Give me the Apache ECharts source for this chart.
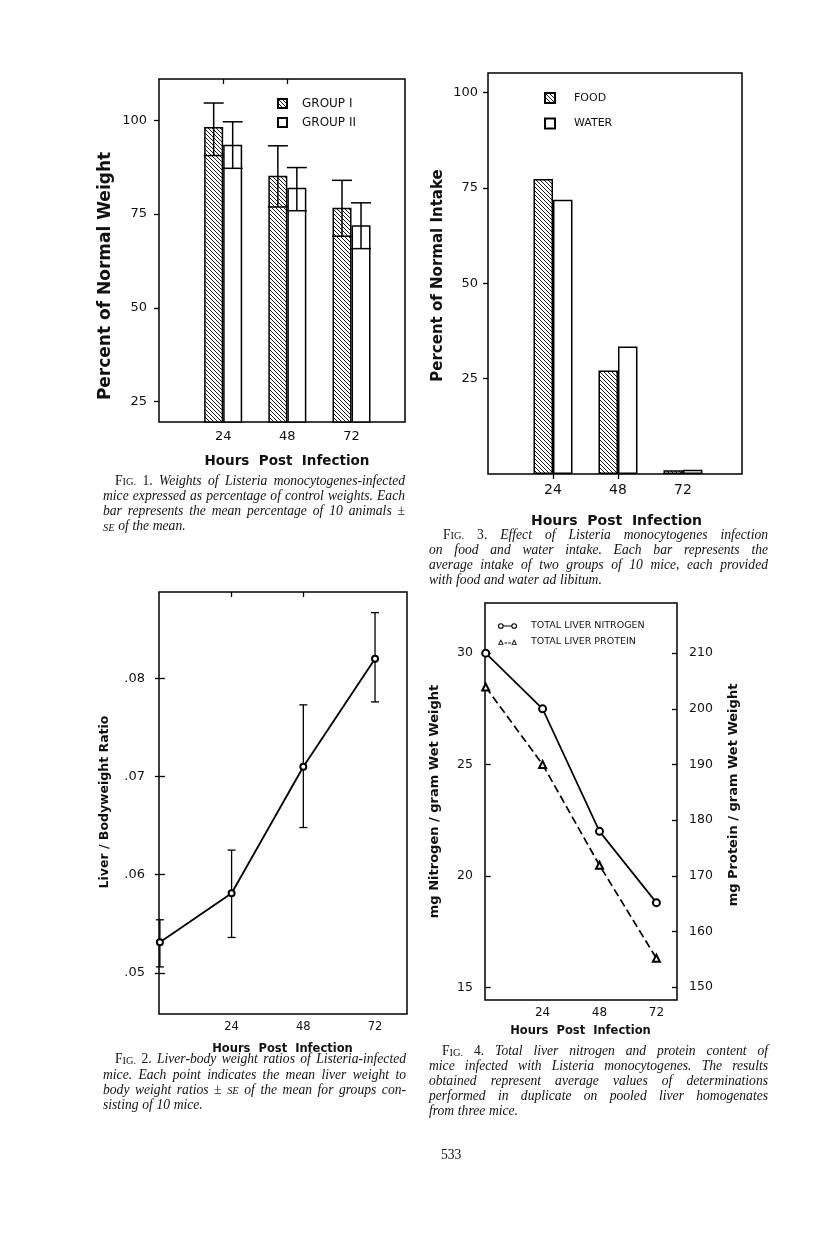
<!DOCTYPE html>
<html><head><meta charset="utf-8">
<script src="https://cdn.jsdelivr.net/npm/echarts@6/dist/echarts.min.js"></script>
<style>html,body{margin:0;padding:0;background:#fff}#c{width:816px;height:1253px}</style>
</head><body><div id="c"></div>
<script>
// ---------------- DATA ----------------
const hours = [24, 48, 72];
// Fig. 1 – percent of normal weight (mean, lower SE, upper SE)
const fig1GroupI = [98.2, 85.2, 76.7];
const fig1GroupILow = [90.6, 76.9, 69.1];
const fig1GroupIHigh = [104.6, 93.2, 84.0];
const fig1GroupII = [93.5, 82.0, 72.0];
const fig1GroupIILow = [87.2, 75.9, 65.8];
const fig1GroupIIHigh = [99.6, 87.4, 78.0];
const fig1YTicks = [25, 50, 75, 100];
// Fig. 3 – percent of normal intake
const fig3Food = [77.3, 27.1, 1.0];
const fig3Water = [71.9, 33.4, 1.1];
const fig3YTicks = [25, 50, 75, 100];
// Fig. 2 – liver / bodyweight ratio
const fig2Hours = [0, 24, 48, 72];
const fig2Ratio = [0.0531, 0.0581, 0.0710, 0.0820];
const fig2Low = [0.0506, 0.0536, 0.0648, 0.0776];
const fig2High = [0.0554, 0.0625, 0.0773, 0.0867];
const fig2YTicks = [0.05, 0.06, 0.07, 0.08];
// Fig. 4 – nitrogen (left axis) and protein (right axis)
const fig4Hours = [0, 24, 48, 72];
const fig4Nitrogen = [30.0, 27.5, 22.0, 18.8];
const fig4Protein = [203.9, 190.0, 171.9, 155.2];
const fig4LeftTicks = [15, 20, 25, 30];
const fig4RightTicks = [150, 160, 170, 180, 190, 200, 210];
const topTicks = [24, 48];

// ---------------- TEXT ----------------
const cap1 = ["FIG. 1. Weights of Listeria monocytogenes-infected",
  "mice expressed as percentage of control weights. Each",
  "bar represents the mean percentage of 10 animals ±",
  "SE of the mean."];
const cap3 = ["FIG. 3. Effect of Listeria monocytogenes infection",
  "on food and water intake. Each bar represents the",
  "average intake of two groups of 10 mice, each provided",
  "with food and water ad libitum."];
const cap2 = ["FIG. 2. Liver-body weight ratios of Listeria-infected",
  "mice. Each point indicates the mean liver weight to",
  "body weight ratios ± SE of the mean for groups con-",
  "sisting of 10 mice."];
const cap4 = ["FIG. 4. Total liver nitrogen and protein content of",
  "mice infected with Listeria monocytogenes. The results",
  "obtained represent average values of determinations",
  "performed in duplicate on pooled liver homogenates",
  "from three mice."];

// ---------------- HELPERS ----------------
const SANS = '"DejaVu Sans", sans-serif';
const SERIF = '"Liberation Serif", "Times New Roman", serif';
const INK = '#111';

function hatch() {
  const n = 4, c = document.createElement('canvas');
  c.width = c.height = n;
  const g = c.getContext('2d');
  g.fillStyle = '#fff'; g.fillRect(0, 0, n, n);
  g.strokeStyle = '#000'; g.lineWidth = 0.9;
  g.beginPath();
  g.moveTo(-1, -1); g.lineTo(n + 1, n + 1);
  g.moveTo(n - 1, -1); g.lineTo(n + 1, 1);
  g.moveTo(-1, n - 1); g.lineTo(1, n + 1);
  g.stroke();
  return c;
}
const HATCH = { image: hatch(), repeat: 'repeat' };

const meas = document.createElement('canvas').getContext('2d');
function segW(s) { meas.font = s.font; return meas.measureText(s.text).width; }
const CS = 13.6, SC = 10.4;
function wordSegs(w, i, words, li) {
  const it = `italic ${CS}px ${SERIF}`, rm = `${CS}px ${SERIF}`;
  if (li === 0 && i === 0 && w === 'FIG.') return [{ text: 'F', font: rm, size: CS }, { text: 'IG.', font: `${SC}px ${SERIF}`, size: SC }];
  if (li === 0 && i === 1) return [{ text: w, font: rm, size: CS }];
  if (w === 'SE') return [{ text: 'SE', font: `italic ${SC}px ${SERIF}`, size: SC }];
  if (w === '±') return [{ text: '±', font: rm, size: CS }];
  return [{ text: w, font: it, size: CS }];
}
function captionEls(lines, cfg) {
  const els = [];
  lines.forEach((line, li) => {
    const words = line.split(' ');
    const segs = words.map((w, i) => wordSegs(w, i, words, li));
    const widths = segs.map(ss => ss.reduce((a, s) => a + segW(s), 0));
    const x0 = cfg.left + (li === 0 ? cfg.indent : 0);
    const total = widths.reduce((a, b) => a + b, 0);
    const last = li === lines.length - 1;
    const gap = last ? CS * 0.27 : (cfg.right - x0 - total) / (words.length - 1);
    let x = x0;
    const base = cfg.base + li * cfg.lh;
    segs.forEach(ss => {
      ss.forEach(s => {
        els.push({ type: 'text', x: x, y: base - 0.3375 * s.size, silent: true,
          style: { text: s.text, font: s.font, fill: INK, align: 'left', verticalAlign: 'middle' } });
        x += segW(s);
      });
      x += gap;
    });
  });
  return els;
}
function nameEl(text, cx, cy, size, rot) {
  return { type: 'text', x: cx, y: cy, rotation: rot ? Math.PI / 2 : 0, silent: true,
    style: { text: text, font: `bold ${size}px ${SANS}`, fill: INK, align: 'center', verticalAlign: 'middle' } };
}

// error bar for bars: vertical line, cap on top and line across the bar at the low end
function barErr(offset, halfW) {
  return function (params, api) {
    const lo = api.coord([api.value(0), api.value(1)]);
    const hi = api.coord([api.value(0), api.value(2)]);
    const cx = lo[0] + offset;
    const st = { stroke: '#000', lineWidth: 1.5 };
    return { type: 'group', children: [
      { type: 'line', shape: { x1: cx, y1: lo[1], x2: cx, y2: hi[1] }, style: st },
      { type: 'line', shape: { x1: cx - halfW, y1: hi[1], x2: cx + halfW, y2: hi[1] }, style: st },
      { type: 'line', shape: { x1: cx - halfW, y1: lo[1], x2: cx + halfW, y2: lo[1] }, style: st }
    ] };
  };
}
function pointErr(params, api) {
  const lo = api.coord([api.value(0), api.value(1)]);
  const hi = api.coord([api.value(0), api.value(2)]);
  const st = { stroke: '#000', lineWidth: 1.3 };
  const h = 4;
  return { type: 'group', children: [
    { type: 'line', shape: { x1: lo[0], y1: lo[1], x2: hi[0], y2: hi[1] }, style: st },
    { type: 'line', shape: { x1: hi[0] - h, y1: hi[1], x2: hi[0] + h, y2: hi[1] }, style: st },
    { type: 'line', shape: { x1: lo[0] - h, y1: lo[1], x2: lo[0] + h, y2: lo[1] }, style: st }
  ] };
}

function xBottom(grid, min, max, size, margin) {
  return { type: 'value', gridIndex: grid, position: 'bottom', min: min, max: max,
    axisLine: { show: false }, axisTick: { show: false }, splitLine: { show: false },
    axisLabel: { customValues: hours, margin: margin, color: INK, fontFamily: SANS, fontSize: size } };
}
function xTop(grid, min, max) {
  return { type: 'value', gridIndex: grid, position: 'top', min: min, max: max,
    axisLine: { show: false }, splitLine: { show: false }, axisLabel: { show: false },
    axisTick: { show: true, inside: true, length: 5, customValues: topTicks, lineStyle: { color: '#000', width: 1.3 } } };
}
function yAxis(grid, pos, min, max, ticks, opts) {
  return { type: 'value', gridIndex: grid, position: pos, min: min, max: max,
    axisLine: { show: false }, splitLine: { show: false },
    axisTick: { show: opts.tick, inside: true, length: 5, customValues: ticks, lineStyle: { color: '#000', width: 1.3 } },
    axisLabel: { show: opts.label, customValues: ticks, margin: opts.margin || 10, color: INK,
      fontFamily: SANS, fontSize: opts.size || 13, formatter: opts.fmt } };
}
const gridBox = { show: true, borderColor: '#000', borderWidth: 1.5, backgroundColor: 'transparent' };

// legend icons drawn as paths: o—o and Δ--Δ
const ICON_CIRC = 'path://M0,3a3,3 0 1,0 6,0a3,3 0 1,0 -6,0ZM1.1,3a1.9,1.9 0 1,1 3.8,0a1.9,1.9 0 1,1 -3.8,0Z' +
  'M6,2.4h8v1.2h-8Z' +
  'M14,3a3,3 0 1,0 6,0a3,3 0 1,0 -6,0ZM15.1,3a1.9,1.9 0 1,1 3.8,0a1.9,1.9 0 1,1 -3.8,0Z';
const ICON_TRI = 'path://M0,6L3,0L6,6ZM1.5,5.2L4.5,5.2L3,2.1Z' +
  'M7,3.6h2.6v1.1h-2.6ZM10.8,3.6h2.6v1.1h-2.6Z' +
  'M14,6L17,0L20,6ZM15.5,5.2L18.5,5.2L17,2.1Z';

const option = {
  backgroundColor: '#fff',
  animation: false,
  grid: [
    Object.assign({ left: 159, top: 79, width: 246, height: 343 }, gridBox),   // fig 1
    Object.assign({ left: 488, top: 73, width: 254, height: 401 }, gridBox),   // fig 3
    Object.assign({ left: 159, top: 592, width: 248, height: 422 }, gridBox),  // fig 2
    Object.assign({ left: 485, top: 603, width: 192, height: 397 }, gridBox)   // fig 4
  ],
  xAxis: [
    xBottom(0, 0, 92, 13, 8), xTop(0, 0, 92),
    xBottom(1, 0, 93.8, 14, 9), xTop(1, 0, 93.8),
    xBottom(2, -0.3, 82.7, 11.5, 7), xTop(2, -0.3, 82.7),
    xBottom(3, -0.3, 80.7, 12, 7)
  ],
  yAxis: [
    yAxis(0, 'left', 19.6, 111, fig1YTicks, { tick: false, label: true, margin: 12, size: 13 }),
    yAxis(0, 'right', 19.6, 111, fig1YTicks, { tick: true, label: false }),
    yAxis(1, 'left', 0, 105.1, fig3YTicks, { tick: false, label: true, margin: 10, size: 13 }),
    yAxis(1, 'right', 0, 105.1, fig3YTicks, { tick: true, label: false }),
    yAxis(2, 'left', 0.0458, 0.0888, fig2YTicks, { tick: true, label: true, margin: 14, size: 13,
      fmt: v => v.toFixed(2).replace(/^0/, '') }),
    yAxis(2, 'right', 0.0458, 0.0888, fig2YTicks, { tick: true, label: false }),
    yAxis(3, 'left', 14.43, 32.25, fig4LeftTicks, { tick: true, label: true, margin: 12, size: 12.5 }),
    yAxis(3, 'right', 147.7, 219, fig4RightTicks, { tick: true, label: true, margin: 12, size: 12.5 })
  ],
  legend: [
    { data: ['GROUP I', 'GROUP II'], orient: 'vertical', left: 277, top: 97.5, padding: 0, itemWidth: 9, itemHeight: 9,
      itemGap: 7, icon: 'rect', selectedMode: false,
      textStyle: { fontFamily: SANS, fontSize: 12, color: INK, lineHeight: 12, padding: [0, 0, 0, 10] } },
    { data: ['FOOD', 'WATER'], orient: 'vertical', left: 544, top: 92, padding: 0, itemWidth: 10, itemHeight: 10,
      itemGap: 13.5, icon: 'rect', selectedMode: false,
      textStyle: { fontFamily: SANS, fontSize: 11, color: INK, lineHeight: 12, padding: [0, 0, 0, 14] } },
    { data: [{ name: 'TOTAL LIVER NITROGEN', icon: ICON_CIRC }, { name: 'TOTAL LIVER PROTEIN', icon: ICON_TRI }],
      orient: 'vertical', left: 498, top: 620, padding: 0,
      itemWidth: 19, itemHeight: 6.5, itemGap: 4, selectedMode: false,
      itemStyle: { color: '#000', borderWidth: 0 },
      textStyle: { fontFamily: SANS, fontSize: 9.5, color: INK, lineHeight: 12, padding: [0, 0, 0, 9] } }
  ],
  series: [
    // Fig 1 bars
    { name: 'GROUP I', type: 'bar', xAxisIndex: 0, yAxisIndex: 0, barWidth: 19, barGap: '0%', z: 2,
      data: hours.map((h, i) => [h, fig1GroupI[i]]),
      itemStyle: { color: HATCH, borderColor: '#000', borderWidth: 1.5 } },
    { name: 'GROUP II', type: 'bar', xAxisIndex: 0, yAxisIndex: 0, barWidth: 19, barGap: '0%', z: 2,
      data: hours.map((h, i) => [h, fig1GroupII[i]]),
      itemStyle: { color: '#fff', borderColor: '#000', borderWidth: 1.5 } },
    { type: 'custom', xAxisIndex: 0, yAxisIndex: 0, z: 3, renderItem: barErr(-9.5, 10),
      data: hours.map((h, i) => [h, fig1GroupILow[i], fig1GroupIHigh[i]]) },
    { type: 'custom', xAxisIndex: 0, yAxisIndex: 0, z: 3, renderItem: barErr(9.5, 10),
      data: hours.map((h, i) => [h, fig1GroupIILow[i], fig1GroupIIHigh[i]]) },
    // Fig 3 bars
    { name: 'FOOD', type: 'bar', xAxisIndex: 2, yAxisIndex: 2, barWidth: 19.5, barGap: '0%', z: 2,
      data: hours.map((h, i) => [h, fig3Food[i]]),
      itemStyle: { color: HATCH, borderColor: '#000', borderWidth: 1.5 } },
    { name: 'WATER', type: 'bar', xAxisIndex: 2, yAxisIndex: 2, barWidth: 19.5, barGap: '0%', z: 2,
      data: hours.map((h, i) => [h, fig3Water[i]]),
      itemStyle: { color: '#fff', borderColor: '#000', borderWidth: 1.5 } },
    // Fig 2
    { type: 'custom', xAxisIndex: 4, yAxisIndex: 4, z: 2, renderItem: pointErr,
      data: fig2Hours.map((h, i) => [h, fig2Low[i], fig2High[i]]) },
    { name: 'ratio', type: 'line', xAxisIndex: 4, yAxisIndex: 4, z: 3,
      data: fig2Hours.map((h, i) => [h, fig2Ratio[i]]),
      symbol: 'emptyCircle', symbolSize: 6, lineStyle: { color: '#000', width: 1.8 },
      itemStyle: { color: '#000', borderWidth: 1.3 } },
    // Fig 4
    { name: 'TOTAL LIVER NITROGEN', type: 'line', xAxisIndex: 6, yAxisIndex: 6, z: 3,
      data: fig4Hours.map((h, i) => [h, fig4Nitrogen[i]]),
      symbol: 'emptyCircle', symbolSize: 7, lineStyle: { color: '#000', width: 1.7 },
      itemStyle: { color: '#000', borderWidth: 1.3 } },
    { name: 'TOTAL LIVER PROTEIN', type: 'line', xAxisIndex: 6, yAxisIndex: 7, z: 3,
      data: fig4Hours.map((h, i) => [h, fig4Protein[i]]),
      symbol: 'emptyTriangle', symbolSize: 7, lineStyle: { color: '#000', width: 1.7, type: [8, 4] },
      itemStyle: { color: '#000', borderWidth: 1.2 } }
  ],
  graphic: { elements: [].concat(
    [
      nameEl('Percent of Normal Weight', 105.5, 276, 17, true),
      nameEl('Hours  Post  Infection', 287, 461.5, 13.5, false),
      nameEl('Percent of Normal Intake', 438, 275.5, 15, true),
      nameEl('Hours  Post  Infection', 616.5, 521.5, 14, false),
      nameEl('Liver / Bodyweight Ratio', 105, 802, 12.5, true),
      nameEl('Hours  Post  Infection', 282.5, 1049.5, 11.5, false),
      nameEl('mg Nitrogen / gram Wet Weight', 435, 801.5, 13, true),
      nameEl('mg Protein / gram Wet Weight', 734, 795, 13, true),
      nameEl('Hours  Post  Infection', 580.5, 1031.5, 11.5, false),
      { type: 'text', x: 441, y: 1160 - 0.3375 * 13.6, silent: true,
        style: { text: '533', font: `13.6px ${SERIF}`, fill: INK, align: 'left', verticalAlign: 'middle' } }
    ],
    captionEls(cap1, { left: 103, right: 405, indent: 12, base: 486, lh: 15.1 }),
    captionEls(cap3, { left: 429, right: 768, indent: 14, base: 540, lh: 15 }),
    captionEls(cap2, { left: 103, right: 406, indent: 12, base: 1064.5, lh: 15.1 }),
    captionEls(cap4, { left: 429, right: 768, indent: 13, base: 1056.5, lh: 15 })
  ) }
};

const chart = echarts.init(document.getElementById('c'), null, { renderer: 'canvas', width: 816, height: 1253 });
chart.setOption(option);
</script>
</body></html>
